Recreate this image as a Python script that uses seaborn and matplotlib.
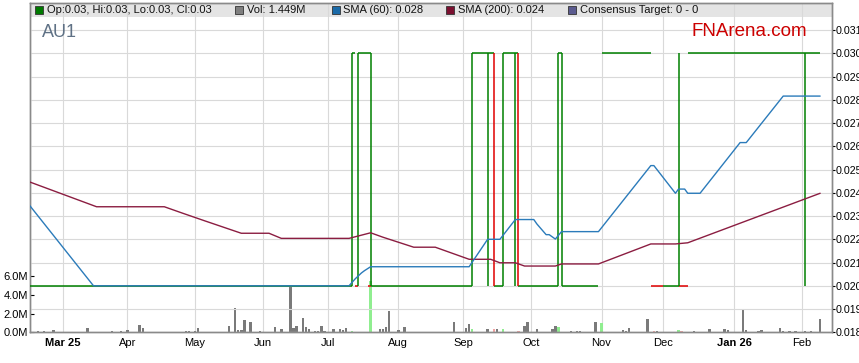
import numpy as np
import pandas as pd
import matplotlib
matplotlib.use("Agg")
import matplotlib.pyplot as plt
from matplotlib.patches import Rectangle
import seaborn as sns

# ---------------- data ----------------
BASE_DAY = "2025-03-03"  # x axis counts trading (week) days from here

month_starts = ["2025-03", "2025-04", "2025-05", "2025-06", "2025-07", "2025-08",
                "2025-09", "2025-10", "2025-11", "2025-12", "2026-01", "2026-02"]
month_labels = ["Mar 25", "Apr", "May", "Jun", "Jul", "Aug",
                "Sep", "Oct", "Nov", "Dec", "Jan 26", "Feb"]
bold_labels = ["Mar 25", "Jan 26"]

price_ticks = [0.018, 0.019, 0.020, 0.021, 0.022, 0.023, 0.024, 0.025,
               0.026, 0.027, 0.028, 0.029, 0.030, 0.031]
vol_ticks = [0, 2, 4, 6]
vol_tick_labels = ["0.0M", "2.0M", "4.0M", "6.0M"]

vol_dates = ["2025-02-19", "2025-02-21", "2025-02-26", "2025-03-13", "2025-03-25",
             "2025-03-28", "2025-04-01", "2025-04-07", "2025-04-08", "2025-04-28",
             "2025-04-29", "2025-05-01", "2025-05-02", "2025-05-16", "2025-05-20",
             "2025-05-21", "2025-05-22", "2025-05-23", "2025-05-27", "2025-05-30",
             "2025-06-06", "2025-06-10", "2025-06-13", "2025-06-16", "2025-06-17",
             "2025-06-19", "2025-06-20", "2025-06-23", "2025-06-25", "2025-06-26",
             "2025-06-27", "2025-06-30", "2025-07-03", "2025-07-07", "2025-07-08",
             "2025-07-09", "2025-07-11", "2025-07-21", "2025-07-24", "2025-07-25",
             "2025-07-28", "2025-07-29", "2025-08-01", "2025-08-05", "2025-08-27",
             "2025-09-02", "2025-09-03", "2025-09-04", "2025-09-11", "2025-09-15",
             "2025-09-16", "2025-09-18", "2025-09-25", "2025-09-29", "2025-09-30",
             "2025-10-03", "2025-10-10", "2025-10-13", "2025-10-14", "2025-10-20",
             "2025-10-22", "2025-10-23", "2025-10-30", "2025-11-03", "2025-11-12",
             "2025-11-13", "2025-11-14", "2025-11-24", "2025-11-26", "2025-11-27",
             "2025-12-08", "2025-12-09", "2025-12-15", "2025-12-22", "2025-12-29",
             "2025-12-30", "2026-01-06", "2026-01-07", "2026-01-13", "2026-01-14",
             "2026-01-22", "2026-01-23", "2026-01-27", "2026-01-29", "2026-02-03",
             "2026-02-05", "2026-02-10"]
vol_millions = [0.10, 0.10, 0.20, 0.45, 0.10,
                0.10, 0.20, 0.75, 0.45, 0.10,
                0.10, 0.10, 0.50, 0.65, 2.60,
                0.25, 0.25, 1.30, 1.10, 0.10,
                0.55, 0.35, 4.95, 0.50, 0.65,
                1.50, 0.55, 0.30, 0.15, 0.15,
                0.65, 0.15, 0.35, 0.40, 0.20,
                0.45, 0.15, 5.50, 0.35, 0.35,
                0.55, 2.30, 0.25, 0.55, 1.15,
                0.50, 0.90, 0.30, 0.30, 0.30,
                0.30, 0.40, 0.10, 0.65, 1.05,
                0.30, 0.30, 0.65, 0.55, 0.10,
                0.10, 0.10, 1.10, 1.00, 0.20,
                0.10, 0.50, 1.45, 0.15, 0.10,
                0.25, 0.10, 0.10, 0.35, 0.30,
                0.20, 2.45, 0.20, 0.10, 0.20,
                0.50, 0.10, 0.10, 0.10, 0.10,
                0.10, 1.449]
vol_move = ["flat"] * 36 + ["up", "up"] + ["flat"] * 9 + ["up", "flat", "down", "flat", "up",
            "down"] + ["flat"] * 5 + ["up"] + ["flat"] * 4 + ["up"] + ["flat"] * 4 + [
            "down", "flat", "up", "down"] + ["flat"] * 17

sma60_dates = ["2025-02-14", "2025-03-17", "2025-07-10", "2025-07-11", "2025-07-14",
               "2025-07-16", "2025-07-17", "2025-07-21", "2025-09-03", "2025-09-11",
               "2025-09-17", "2025-09-24", "2025-10-02", "2025-10-03", "2025-10-08",
               "2025-10-09", "2025-10-13", "2025-10-15", "2025-10-31", "2025-11-25",
               "2025-11-26", "2025-12-05", "2025-12-08", "2025-12-10", "2025-12-11",
               "2025-12-17", "2026-01-05", "2026-01-07", "2026-01-23", "2026-02-10"]
sma60_vals = [0.02350, 0.02000, 0.02000, 0.02015, 0.02030,
              0.02055, 0.02065, 0.02082, 0.02082, 0.02200,
              0.02200, 0.02285, 0.02285, 0.02266, 0.02220,
              0.02220, 0.02201, 0.02233, 0.02233, 0.02517,
              0.02517, 0.02398, 0.02416, 0.02416, 0.02398,
              0.02398, 0.02616, 0.02616, 0.02816, 0.02816]

sma200_dates = ["2025-02-14", "2025-03-18", "2025-04-17", "2025-04-25", "2025-05-06",
                "2025-05-22", "2025-06-04", "2025-06-10", "2025-07-10", "2025-07-21",
                "2025-07-25", "2025-08-08", "2025-08-19", "2025-09-03", "2025-09-12",
                "2025-09-17", "2025-09-24", "2025-09-29", "2025-10-13", "2025-10-15",
                "2025-10-31", "2025-11-25", "2025-12-05", "2025-12-11", "2026-02-10"]
sma200_vals = [0.02448, 0.02340, 0.02340, 0.02312, 0.02280,
               0.02226, 0.02226, 0.02204, 0.02204, 0.02228,
               0.02209, 0.02166, 0.02166, 0.02114, 0.02114,
               0.02099, 0.02099, 0.02085, 0.02085, 0.02094,
               0.02094, 0.02180, 0.02180, 0.02185, 0.02398]

# daily price ticks merged into runs at one price level
run_start = ["2025-02-14", "2025-07-14", "2025-07-18", "2025-07-21", "2025-09-15",
             "2025-09-25", "2025-10-15", "2025-11-25", "2025-12-01", "2025-12-08",
             "2025-07-11", "2025-07-15", "2025-09-04", "2025-09-18", "2025-10-14",
             "2025-11-03", "2025-12-11"]
run_end = ["2025-07-11", "2025-07-15", "2025-07-21", "2025-09-04", "2025-09-18",
           "2025-10-14", "2025-10-31", "2025-12-01", "2025-12-08", "2025-12-11",
           "2025-07-14", "2025-07-21", "2025-09-15", "2025-09-25", "2025-10-15",
           "2025-11-25", "2026-02-10"]
run_price = [0.020] * 10 + [0.030] * 7
run_move = ["up", "down", "down", "up", "up", "up", "up", "down", "up", "down",
            "up", "up", "up", "up", "up", "up", "up"]

# days whose low-high range spans 0.020 - 0.030
range_dates = ["2025-07-11", "2025-07-15", "2025-07-21", "2025-09-04", "2025-09-11",
               "2025-09-15", "2025-09-18", "2025-09-24", "2025-09-25", "2025-10-14",
               "2025-10-15", "2025-12-08", "2026-02-03"]
range_move = ["up", "up", "up", "up", "up", "down", "up", "up", "down", "up",
              "up", "up", "up"]
range_low = 0.020
range_high = 0.030

legend_labels = ["Op:0.03, Hi:0.03, Lo:0.03, Cl:0.03", "Vol: 1.449M", "SMA (60): 0.028",
                 "SMA (200): 0.024", "Consensus Target: 0 - 0"]
legend_colors = ["#007a00", "#7f7f7f", "#1a6aa8", "#7b1030", "#5b5b8f"]

# ---------------- helpers ----------------
def bpos(dates):
    d = np.array(dates, dtype="datetime64[D]")
    return np.busday_count(np.datetime64(BASE_DAY), d).astype(float)

GREEN, RED = "#008000", "#e00000"
move_col = {"up": GREEN, "down": RED}
vol_col = {"flat": "#7a7a7a", "up": "#90ee90", "down": "#f4a3a3"}

W, H = 859, 363
sns.set_style("white")
plt.rcParams["font.family"] = ["Liberation Sans", "DejaVu Sans"]

fig = plt.figure(figsize=(W / 100, H / 100), dpi=100)
L, R, T, B = 30.0, 831.7, 2.7, 332.3
ax = fig.add_axes([L / W, (H - B) / H, (R - L) / W, (B - T) / H])
axp = ax.twinx()

# ---- volume (left axis)
vx = bpos(vol_dates)
ax.bar(vx, vol_millions, width=0.8, color=[vol_col[m] for m in vol_move],
       linewidth=0, zorder=1)
ax.set_ylim(0, 35.25)
ax.set_yticks(vol_ticks)
ax.set_yticklabels(vol_tick_labels)
ax.set_xlim(-10.62, 249.75)

first_days = np.busday_offset(np.array([m + "-01" for m in month_starts], dtype="datetime64[D]"),
                              0, roll="forward")
mpos = bpos(first_days)
ax.set_xticks(mpos)
ax.set_xticklabels(month_labels)
for lbl in ax.get_xticklabels():
    if lbl.get_text() in bold_labels:
        lbl.set_fontweight("bold")

ax.set_axisbelow(True)
ax.xaxis.grid(True, color="#d9d9d9", linewidth=0.8)
ax.yaxis.grid(False)
ax.tick_params(axis="x", direction="out", length=2.0, width=0.8, pad=1.8,
               labelsize=8, colors="black")
ax.tick_params(axis="y", direction="in", length=2.6, width=0.8, pad=1.5,
               labelsize=8, colors="black", left=True, right=False)

band_h = 14.0 / (B - T)
ax.add_patch(Rectangle((0, 1 - band_h), 1, band_h, transform=ax.transAxes,
                       facecolor="#e4e4e4", edgecolor="none", zorder=0.3))

# ---- price (right axis)
axp.set_ylim(0.018, 0.018 + (B - T) / 23250.0)
axp.set_yticks(price_ticks)
axp.set_yticklabels([f"{v:.3f}" for v in price_ticks])
axp.set_axisbelow(True)
axp.yaxis.grid(True, color="#d9d9d9", linewidth=0.8)
axp.tick_params(axis="y", direction="out", length=2.2, width=0.8, pad=0.8,
                labelsize=7.7, colors="black")

axp.hlines(run_price, bpos(run_start), bpos(run_end),
           colors=[move_col[m] for m in run_move], linewidth=1.1, zorder=3)
axp.vlines(bpos(range_dates), range_low, range_high,
           colors=[move_col[m] for m in range_move], linewidth=1.1, zorder=3)

df60 = pd.DataFrame({"x": bpos(sma60_dates), "v": sma60_vals})
df200 = pd.DataFrame({"x": bpos(sma200_dates), "v": sma200_vals})
sns.lineplot(data=df200, x="x", y="v", ax=axp, color="#8b1d41", linewidth=1.0,
             estimator=None, sort=False, legend=False, zorder=4)
sns.lineplot(data=df60, x="x", y="v", ax=axp, color="#2b7bba", linewidth=1.0,
             estimator=None, sort=False, legend=False, zorder=4)
axp.set_xlabel("")
axp.set_ylabel("")
ax.set_xlabel("")
ax.set_ylabel("")
axp.set_xlim(-10.62, 249.75)

for a in (ax, axp):
    for s in a.spines.values():
        s.set_color("#8a8a8a")
        s.set_linewidth(1.0)

# ---- header band legend and titles
sq_x = [35.0, 235.0, 331.7, 446.0, 568.3]
tx_x = [46.7, 246.7, 342.7, 458.3, 580.0]
for sx, tx, lab, col in zip(sq_x, tx_x, legend_labels, legend_colors):
    fig.add_artist(Rectangle((sx / W, (H - 14.0) / H), 8.0 / W, 8.0 / H,
                             transform=fig.transFigure, facecolor=col,
                             edgecolor="#333333", linewidth=0.6, zorder=6))
    fig.text(tx / W, (H - 10.0) / H, lab, fontsize=8, color="#111111",
             ha="left", va="center", zorder=6)

fig.text(41.7 / W, (H - 32.5) / H, "AU1", fontsize=13, color="#5f7185",
         ha="left", va="center", zorder=6)
fig.text(691.7 / W, (H - 32.0) / H, "FNArena.com", fontsize=13.5, color="#cc0000",
         ha="left", va="center", zorder=6)

fig.savefig("out.png", dpi=100)
